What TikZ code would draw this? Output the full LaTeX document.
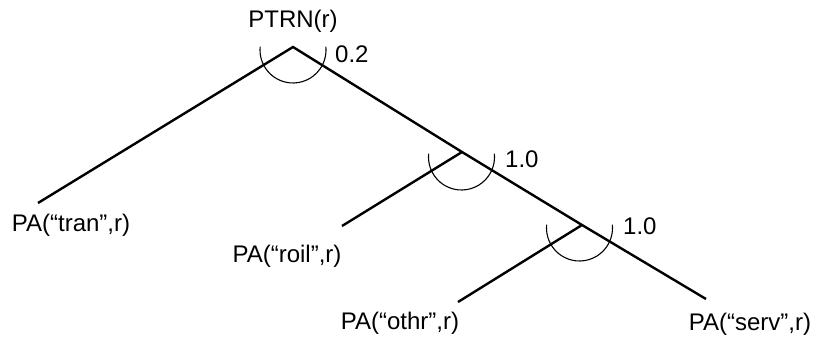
\documentclass[tikz,border=0pt]{standalone}
\usepackage{fontspec}
\setmainfont{Liberation Sans}
\usetikzlibrary{calc}
\begin{document}
\begin{tikzpicture}[x=1pt,y=1pt,
  lbl/.style={font=\fontsize{24}{28}\selectfont, inner sep=0pt, anchor=base},
  edge/.style={line width=2.4pt},
  andarc/.style={line width=1.1pt}]
\useasboundingbox (0,0) rectangle (816,-339);
% junctions
\coordinate (j1) at (293,-47);
\coordinate (j2) at (462,-152);
\coordinate (j3) at (582,-225);
% leaf ends
\coordinate (e1) at (38,-203);
\coordinate (e2) at (342,-226);
\coordinate (e3) at (458,-302);
\coordinate (e4) at (706,-299);
% labels
\node[lbl] (root) at (293,-28) {PTRN(r)};
\node[lbl] (tran) at (71,-231) {PA(“tran”,r)};
\node[lbl] (roil) at (287,-262) {PA(“roil”,r)};
\node[lbl] (othr) at (400,-329) {PA(“othr”,r)};
\node[lbl] (serv) at (750,-330) {PA(“serv”,r)};
\node[lbl, anchor=base west] (w1) at (335,-63) {0.2};
\node[lbl, anchor=base west] (w2) at (505,-168) {1.0};
\node[lbl, anchor=base west] (w3) at (623,-234) {1.0};
% edges
\draw[edge] (e1) -- (j1) -- (j2) -- (j3) -- (e4);
\draw[edge] (j2) -- (e2);
\draw[edge] (j3) -- (e3);
% and-arcs
\draw[andarc] ($(j1)+(0,-3)+(174:33)$) arc[start angle=174, end angle=366, radius=33];
\draw[andarc] ($(j2)+(-0.5,-5)+(174:33)$) arc[start angle=174, end angle=366, radius=33];
\draw[andarc] ($(j3)+(-2.5,-3)+(174:33)$) arc[start angle=174, end angle=366, radius=33];
\end{tikzpicture}
\end{document}
